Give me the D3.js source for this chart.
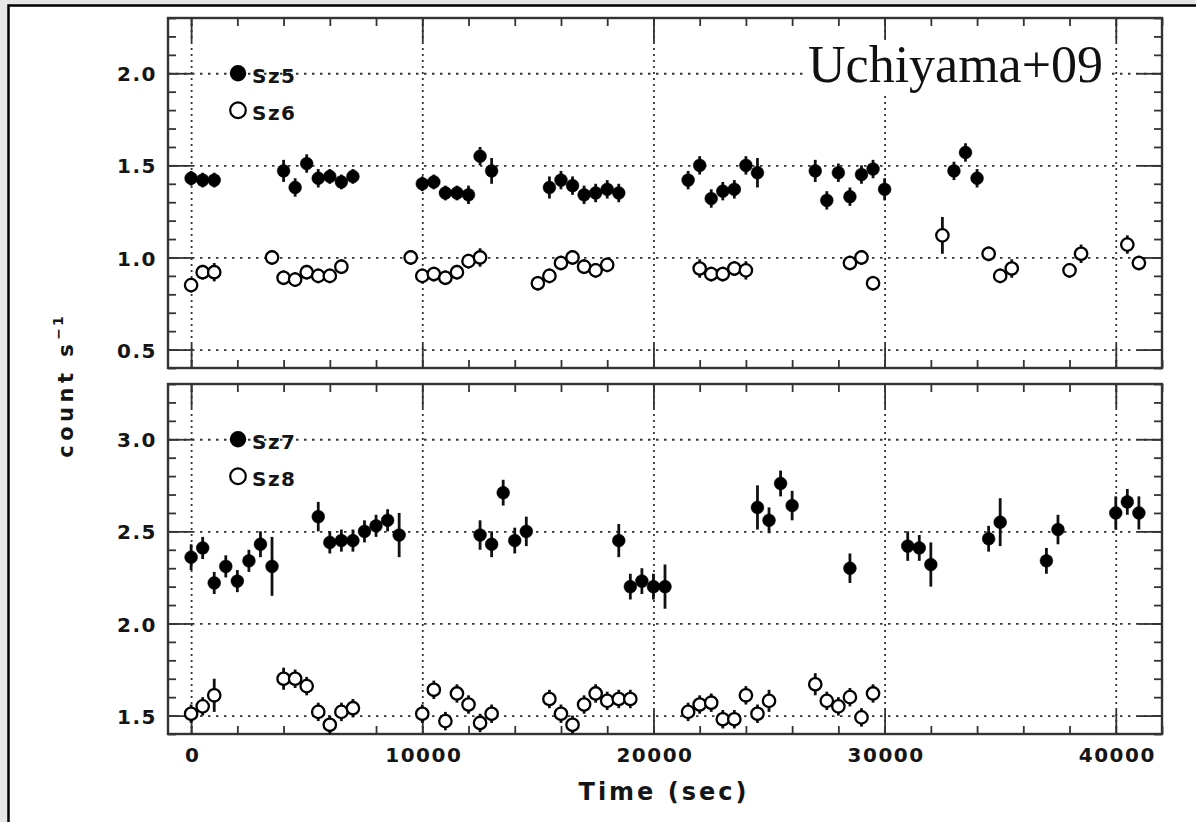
<!DOCTYPE html>
<html><head><meta charset="utf-8">
<script src="https://cdn.jsdelivr.net/npm/d3@7"></script>
<style>
html,body{margin:0;padding:0;background:#e6e6e6;}
svg{display:block;}
.tk text{font-family:"DejaVu Sans",sans-serif;font-weight:700;font-size:20px;letter-spacing:1.5px;fill:#151515;}
</style></head>
<body>
<script>
// ---- data (time in s, count rate in count/s, 1-sigma error) ----
const sz5T = [0,500,1000,4000,4500,5000,5500,6000,6500,7000,10000,10500,11000,11500,12000,12500,13000,15500,16000,16500,17000,17500,18000,18500,21500,22000,22500,23000,23500,24000,24500,27000,27500,28000,28500,29000,29500,30000,33000,33500,34000];
const sz5V = [1.43,1.42,1.42,1.47,1.38,1.51,1.43,1.44,1.41,1.44,1.40,1.41,1.35,1.35,1.34,1.55,1.47,1.38,1.42,1.39,1.34,1.35,1.37,1.35,1.42,1.50,1.32,1.36,1.37,1.50,1.46,1.47,1.31,1.46,1.33,1.45,1.48,1.37,1.47,1.57,1.43];
const sz5E = [0.04,0.04,0.04,0.06,0.05,0.05,0.05,0.04,0.04,0.04,0.04,0.04,0.04,0.04,0.05,0.05,0.07,0.06,0.05,0.05,0.05,0.05,0.05,0.05,0.05,0.05,0.05,0.05,0.05,0.05,0.08,0.06,0.05,0.05,0.05,0.05,0.05,0.06,0.05,0.05,0.05];

const sz6T = [0,500,1000,3500,4000,4500,5000,5500,6000,6500,9500,10000,10500,11000,11500,12000,12500,15000,15500,16000,16500,17000,17500,18000,22000,22500,23000,23500,24000,28500,29000,29500,32500,34500,35000,35500,38000,38500,40500,41000];
const sz6V = [0.85,0.92,0.92,1.00,0.89,0.88,0.92,0.90,0.90,0.95,1.00,0.90,0.91,0.89,0.92,0.98,1.00,0.86,0.90,0.97,1.00,0.95,0.93,0.96,0.94,0.91,0.91,0.94,0.93,0.97,1.00,0.86,1.12,1.02,0.90,0.94,0.93,1.02,1.07,0.97];
const sz6E = [0.04,0.04,0.05,0.04,0.04,0.04,0.04,0.04,0.04,0.04,0.04,0.04,0.04,0.04,0.04,0.04,0.05,0.04,0.04,0.04,0.04,0.04,0.04,0.04,0.05,0.04,0.04,0.04,0.05,0.04,0.04,0.04,0.10,0.04,0.04,0.05,0.04,0.05,0.05,0.04];

const sz7T = [0,500,1000,1500,2000,2500,3000,3500,5500,6000,6500,7000,7500,8000,8500,9000,12500,13000,13500,14000,14500,18500,19000,19500,20000,20500,24500,25000,25500,26000,28500,31000,31500,32000,34500,35000,37000,37500,40000,40500,41000];
const sz7V = [2.36,2.41,2.22,2.31,2.23,2.34,2.43,2.31,2.58,2.44,2.45,2.45,2.50,2.53,2.56,2.48,2.48,2.43,2.71,2.45,2.50,2.45,2.20,2.23,2.20,2.20,2.63,2.56,2.76,2.64,2.30,2.42,2.41,2.32,2.46,2.55,2.34,2.51,2.60,2.66,2.60];
const sz7E = [0.07,0.06,0.06,0.06,0.06,0.06,0.07,0.16,0.08,0.06,0.06,0.06,0.06,0.06,0.06,0.12,0.08,0.07,0.07,0.07,0.08,0.09,0.07,0.07,0.07,0.12,0.12,0.07,0.07,0.08,0.08,0.08,0.07,0.12,0.07,0.13,0.07,0.08,0.09,0.07,0.09];

const sz8T = [0,500,1000,4000,4500,5000,5500,6000,6500,7000,10000,10500,11000,11500,12000,12500,13000,15500,16000,16500,17000,17500,18000,18500,19000,21500,22000,22500,23000,23500,24000,24500,25000,27000,27500,28000,28500,29000,29500];
const sz8V = [1.51,1.55,1.61,1.70,1.70,1.66,1.52,1.45,1.52,1.54,1.51,1.64,1.47,1.62,1.56,1.46,1.51,1.59,1.51,1.45,1.56,1.62,1.58,1.59,1.59,1.52,1.56,1.57,1.48,1.48,1.61,1.51,1.58,1.67,1.58,1.55,1.60,1.49,1.62];
const sz8E = [0.05,0.05,0.09,0.06,0.05,0.05,0.05,0.05,0.05,0.05,0.05,0.05,0.05,0.05,0.05,0.05,0.05,0.05,0.05,0.05,0.05,0.05,0.05,0.05,0.05,0.05,0.05,0.05,0.05,0.05,0.05,0.05,0.06,0.06,0.05,0.05,0.05,0.05,0.05];

const xMajor = [0,10000,20000,30000,40000];
const xMinor = d3.range(0, 42001, 2000);
const topYMajor = [0.5,1.0,1.5,2.0];
const botYMajor = [1.5,2.0,2.5,3.0];
const topLegend = ["Sz5","Sz6"];
const botLegend = ["Sz7","Sz8"];
const xTitle = "Time (sec)";
const credit = "Uchiyama+09";

// ---- layout ----
const W = 1196, H = 822;
const L = 168, R = 1162;
const svg = d3.select("body").append("svg").attr("width", W).attr("height", H);
svg.append("rect").attr("x",0).attr("y",0).attr("width",W).attr("height",H).attr("fill","#e6e6e6");
svg.append("rect").attr("x",8.5).attr("y",5.5).attr("width",W+20).attr("height",H+20)
   .attr("fill","#fff").attr("stroke","#000").attr("stroke-width",2.5);

const x = d3.scaleLinear().domain([-1000, 42000]).range([L, R]);

function panel(top, bottom, yDomain, yMajor, s1, s2, legend, showX) {
  const y = d3.scaleLinear().domain(yDomain).range([bottom, top]);
  const g = svg.append("g");
  const h = bottom - top;
  const yMinor = d3.range(Math.ceil(yDomain[0]*10), Math.floor(yDomain[1]*10)+1).map(d => d/10);

  // dotted grid
  g.append("g").attr("transform",`translate(0,${bottom})`)
    .call(d3.axisBottom(x).tickValues(xMajor).tickSize(-h).tickFormat(""))
    .call(a => a.select(".domain").remove())
    .selectAll("line").attr("stroke","#333").attr("stroke-width",1.8).attr("stroke-dasharray","2,4");
  g.append("g").attr("transform",`translate(${L},0)`)
    .call(d3.axisLeft(y).tickValues(yMajor).tickSize(-(R-L)).tickFormat(""))
    .call(a => a.select(".domain").remove())
    .selectAll("line").attr("stroke","#333").attr("stroke-width",1.8).attr("stroke-dasharray","2.5,5.5");

  // ticks (inward on all sides)
  const tk = (axis, tr, vals, len) => {
    g.append("g").attr("transform", tr)
      .call(axis.tickValues(vals).tickSize(-len).tickFormat(""))
      .call(a => a.select(".domain").remove())
      .selectAll("line").attr("stroke","#333").attr("stroke-width",1.8);
  };
  tk(d3.axisBottom(x), `translate(0,${bottom})`, xMinor, 8);
  tk(d3.axisBottom(x), `translate(0,${bottom})`, xMajor, 24);
  tk(d3.axisTop(x), `translate(0,${top})`, xMinor, 8);
  tk(d3.axisTop(x), `translate(0,${top})`, xMajor, 24);
  tk(d3.axisLeft(y), `translate(${L},0)`, yMinor, 8);
  tk(d3.axisLeft(y), `translate(${L},0)`, yMajor, 24);
  tk(d3.axisRight(y), `translate(${R},0)`, yMinor, 8);
  tk(d3.axisRight(y), `translate(${R},0)`, yMajor, 24);

  // y labels
  g.append("g").attr("class","tk").attr("transform",`translate(${L},0)`)
    .call(d3.axisLeft(y).tickValues(yMajor).tickSize(0).tickPadding(11).tickFormat(d3.format(".1f")))
    .call(a => a.select(".domain").remove())
    .selectAll("text").attr("dy","0.38em");
  if (showX) {
    g.append("g").attr("class","tk").attr("transform",`translate(0,${bottom})`)
      .call(d3.axisBottom(x).tickValues(xMajor).tickSize(0).tickPadding(14).tickFormat(d3.format("d")))
      .call(a => a.select(".domain").remove())
      .selectAll("text").attr("dx","1px");
  }

  // frame
  g.append("rect").attr("x",L).attr("y",top).attr("width",R-L).attr("height",h)
    .attr("fill","none").attr("stroke","#333").attr("stroke-width",2.4);

  // series
  const draw = (T, V, E, filled) => {
    const d = T.map((t,i) => ({t, v:V[i], e:E[i]}));
    const sg = g.append("g");
    sg.selectAll("line").data(d).join("line")
      .attr("x1", p => x(p.t)).attr("x2", p => x(p.t))
      .attr("y1", p => y(p.v - p.e)).attr("y2", p => y(p.v + p.e))
      .attr("stroke","#111").attr("stroke-width",2.8);
    sg.selectAll("circle").data(d).join("circle")
      .attr("cx", p => x(p.t)).attr("cy", p => y(p.v))
      .attr("r", filled ? 6.4 : 6.2)
      .attr("fill", filled ? "#000" : "#fff")
      .attr("stroke","#000").attr("stroke-width", filled ? 0.5 : 2.3);
  };
  draw(s1.T, s1.V, s1.E, true);
  draw(s2.T, s2.V, s2.E, false);

  // legend
  const ly0 = y(yMajor[yMajor.length-1]);
  const lg = g.append("g").attr("class","tk");
  lg.append("circle").attr("cx",238).attr("cy",ly0).attr("r",8.2).attr("fill","#000");
  lg.append("circle").attr("cx",238).attr("cy",ly0+37).attr("r",7.8).attr("fill","#fff").attr("stroke","#000").attr("stroke-width",2.2);
  lg.append("text").attr("x",252).attr("y",ly0+10).text(legend[0]);
  lg.append("text").attr("x",252).attr("y",ly0+47).text(legend[1]);
  return y;
}

panel(18, 368, [0.4, 2.3], topYMajor, {T:sz5T,V:sz5V,E:sz5E}, {T:sz6T,V:sz6V,E:sz6E}, topLegend, false);
panel(384, 734, [1.4, 3.3], botYMajor, {T:sz7T,V:sz7V,E:sz7E}, {T:sz8T,V:sz8V,E:sz8E}, botLegend, true);

// axis titles
svg.append("text").attr("x", 664).attr("y", 800).attr("text-anchor","middle")
  .attr("font-family","DejaVu Sans, sans-serif").attr("font-weight",700)
  .attr("font-size",24).attr("letter-spacing","3px").attr("fill","#151515").text(xTitle);
const yt = svg.append("text").attr("transform","translate(73,386) rotate(-90)").attr("text-anchor","middle")
  .attr("font-family","DejaVu Sans, sans-serif").attr("font-weight",700)
  .attr("font-size",21).attr("letter-spacing","4.5px").attr("fill","#151515");
yt.append("tspan").text("count s");
yt.append("tspan").attr("dy",-10).attr("font-size",14).attr("letter-spacing","2px").text("\u22121");

// credit label
svg.append("rect").attr("x",804).attr("y",40).attr("width",304).attr("height",54).attr("fill","#fff");
svg.append("text").attr("x",808).attr("y",82).attr("font-family","Liberation Serif, Times New Roman, serif")
  .attr("font-size",52).attr("fill","#111").text(credit);
</script>
</body></html>
